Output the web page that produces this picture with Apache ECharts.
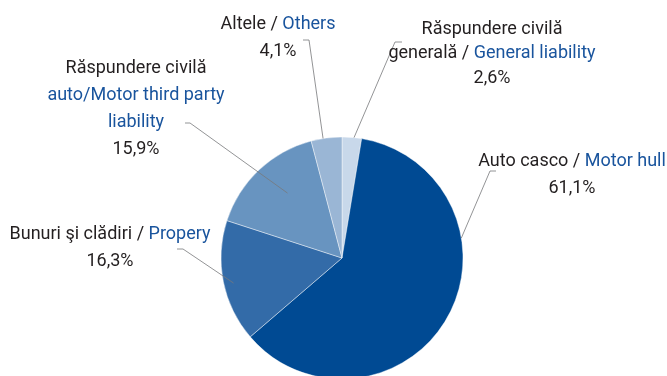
<!DOCTYPE html>
<html>
<head>
<meta charset="utf-8">
<script src="https://cdn.jsdelivr.net/npm/echarts@6/dist/echarts.min.js"></script>
<style>
html,body{margin:0;padding:0;background:#fff;}
#c{width:667px;height:376px;}
</style>
</head>
<body>
<div id="c"></div>
<script>
// Data (clockwise from 12 o'clock)
const categoriesRo = ['Răspundere civilă generală', 'Auto casco', 'Bunuri şi clădiri', 'Răspundere civilă auto', 'Altele'];
const categoriesEn = ['General liability', 'Motor hull', 'Propery', 'Motor third party liability', 'Others'];
const shares = [2.6, 61.1, 16.3, 15.9, 4.1];
const shareLabels = ['2,6%', '61,1%', '16,3%', '15,9%', '4,1%'];

// Label text lines as shown on the chart: [text, style, ...]
const labelLines = [
  [['Răspundere civilă', 'kg'], ['generală / ', 'kg', 'General liability', 'bg'], [shareLabels[0], 'kg']],
  [['Auto casco / ', 'k', 'Motor hull', 'b'], [shareLabels[1], 'k']],
  [['Bunuri şi clădiri / ', 'k', 'Propery', 'b'], [shareLabels[2], 'k']],
  [['Răspundere civilă', 'k'], ['auto/Motor third party', 'b'], ['liability', 'b'], [shareLabels[3], 'k']],
  [['Altele / ', 'k', 'Others', 'b'], [shareLabels[4], 'k']]
];

const colors = ['#c8d8ea', '#004a93', '#336ba8', '#6894c0', '#9ab6d5'];

// Layout (not data): label centres and leader geometry
const CX = 342, CY = 258, R = 121;
const labelCenters = [[492, 53.7], [572, 175], [110, 248], [136, 108.5], [278, 38]];
// leader anchor on the pie: [angle clockwise from top in degrees, radius fraction]
const leaderAnchors = [[5.7, 1.0], [80.5, 1.0], [257, 0.92], [320, 0.70], [351, 1.0]];
const leaderBends = [[[395, 42], [402, 42]], [[490, 171], [496, 171]], [[183, 249], [177, 249]], [[190, 123], [185, 123]], [[309, 40], [303, 40]]];

function buildLabel(i) {
  return labelLines[i].map(function (line) {
    let s = '';
    for (let j = 0; j < line.length; j += 2) s += '{' + line[j + 1] + '|' + line[j] + '}';
    return s;
  }).join('\n');
}

const FONT = "Roboto, 'Liberation Sans', sans-serif";
const BLACK = '#231f20', BLUE = '#19549d';
const pieData = shares.map(function (v, i) {
  return {value: v, name: categoriesRo[i] + ' / ' + categoriesEn[i]};
});

const chart = echarts.init(document.getElementById('c'), null, {renderer: 'canvas'});
chart.setOption({
  animation: false,
  backgroundColor: '#ffffff',
  color: colors,
  series: [{
    type: 'pie',
    z: 2,
    center: [CX, CY],
    radius: R,
    startAngle: 90,
    clockwise: true,
    silent: true,
    data: pieData,
    itemStyle: {borderColor: 'rgba(255,255,255,0.7)', borderWidth: 0.6},
    label: {show: false},
    labelLine: {show: false}
  }, {
    type: 'pie',
    z: 5,
    center: [CX, CY],
    radius: R,
    startAngle: 90,
    clockwise: true,
    avoidLabelOverlap: false,
    silent: true,
    data: pieData,
    itemStyle: {color: 'rgba(0,0,0,0)', borderWidth: 0},
    label: {
      show: true,
      position: 'outside',
      formatter: function (p) { return buildLabel(p.dataIndex); },
      align: 'center',
      rich: {
        k: {color: BLACK, fontSize: 18, fontFamily: FONT, lineHeight: 27},
        b: {color: BLUE, fontSize: 18, fontFamily: FONT, lineHeight: 27},
        kg: {color: BLACK, fontSize: 18, fontFamily: FONT, lineHeight: 24.5},
        bg: {color: BLUE, fontSize: 18, fontFamily: FONT, lineHeight: 24.5}
      }
    },
    labelLine: {show: true, lineStyle: {color: '#77787b', width: 0.8}, smooth: false},
    labelLayout: function (p) {
      const i = p.dataIndex;
      const a = leaderAnchors[i][0] * Math.PI / 180;
      const f = leaderAnchors[i][1];
      const p0 = [CX + f * R * Math.sin(a), CY - f * R * Math.cos(a)];
      return {
        x: labelCenters[i][0],
        y: labelCenters[i][1],
        align: 'center',
        verticalAlign: 'middle',
        labelLinePoints: [p0, leaderBends[i][0], leaderBends[i][1]]
      };
    }
  }]
});
</script>
</body>
</html>
